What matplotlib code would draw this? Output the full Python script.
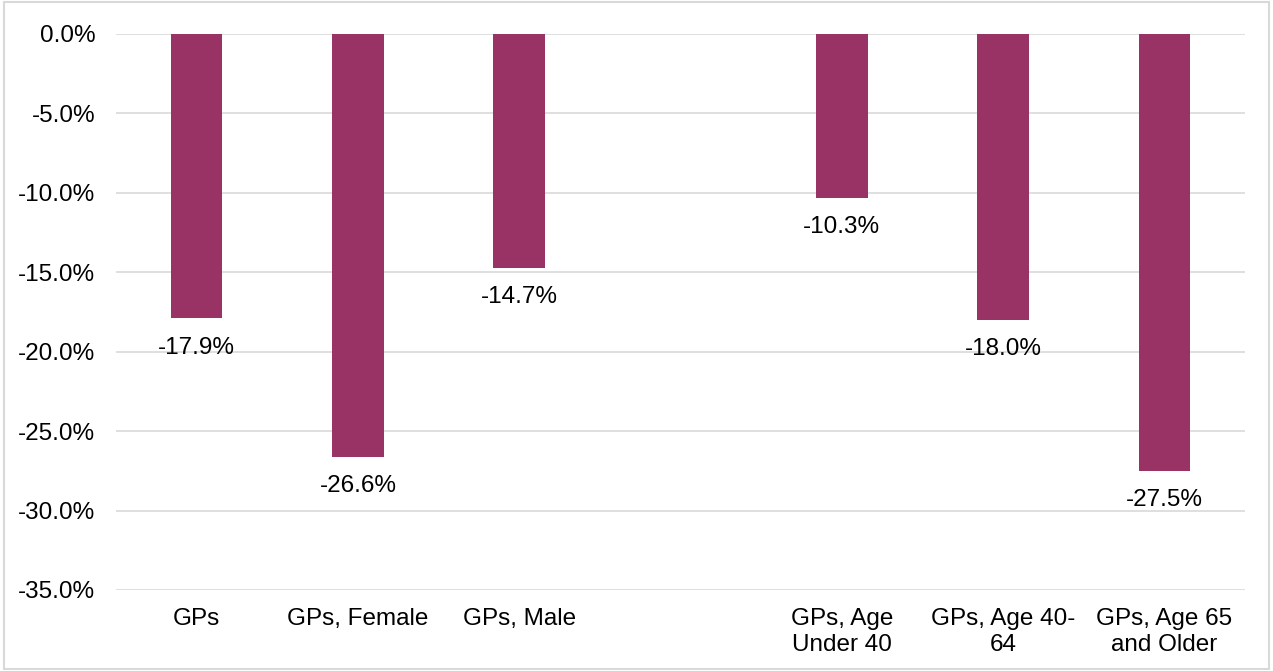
import matplotlib.pyplot as plt
import matplotlib.patches as patches

plt.rcParams['font.family'] = ['Liberation Sans', 'DejaVu Sans']

# Category labels (blank slot separates sex and age groups)
categories = ['GPs', 'GPs, Female', 'GPs, Male', '',
              'GPs, Age\nUnder 40', 'GPs, Age 40-\n64', 'GPs, Age 65\nand Older']
values = [-17.9, -26.6, -14.7, None, -10.3, -18.0, -27.5]
yticks = [0, -5, -10, -15, -20, -25, -30, -35]

fs = 17.5

fig = plt.figure(figsize=(12.73, 6.71), dpi=100)
ax = fig.add_axes([116 / 1273, 1 - 590 / 671, (1245 - 116) / 1273, (590 - 34) / 671])

# light grey frame around the whole figure
fig.patches.append(patches.Rectangle((0.003, 0.003), 0.994, 0.994, transform=fig.transFigure,
                                     fill=False, edgecolor='#d9d9d9', linewidth=1.5))

x = list(range(len(categories)))
for xi, v in zip(x, values):
    if v is None:
        continue
    ax.bar(xi, v, width=0.32, color='#993366', zorder=3)
    ax.annotate(f'{v:.1f}%', (xi, v), xytext=(0, -21), textcoords='offset points',
                ha='center', va='center', fontsize=fs, color='#000000')

ax.set_xlim(-0.5, len(categories) - 0.5)
ax.set_ylim(-35, 0)
ax.set_yticks(yticks)
ax.set_yticklabels([f'{t:.1f}%' for t in yticks], fontsize=fs)
ax.set_xticks(x)
ax.set_xticklabels(categories, fontsize=fs, linespacing=1.25)
ax.tick_params(length=0)
ax.tick_params(axis='y', pad=15)
ax.tick_params(axis='x', pad=13)
ax.grid(axis='y', color='#d9d9d9', linewidth=1.2, zorder=0)
for s in ax.spines.values():
    s.set_visible(False)

fig.savefig('out.png', dpi=100)
